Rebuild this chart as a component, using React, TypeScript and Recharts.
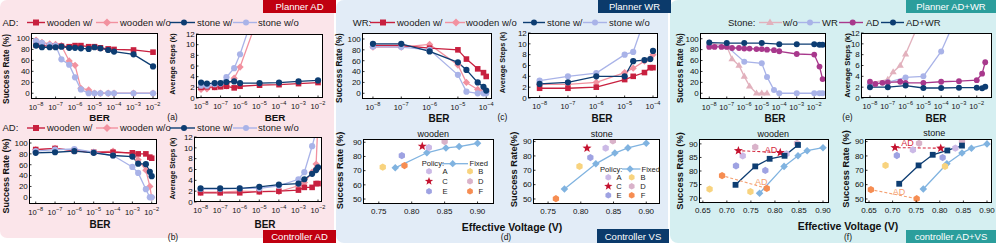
import React from "react"
import { ComposedChart, Line, Scatter, XAxis, YAxis, ReferenceLine, ReferenceDot } from "recharts"

const FONT = "'Liberation Sans', Arial, Helvetica, sans-serif"

// colours
const RED = "#c8203f"
const PINK = "#f2919f"
const NAVY = "#0d3d72"
const LAV = "#a9b3e8"
const MAUVE = "#e2b1bd"
const MAGENTA = "#a8388c"
const FIXED = "#80b3e0"
const POL_COLORS = ["#cbb9e6", "#f8d37e", "#c4122f", "#d9b2c9", "#9ea2e2", "#f68d52"]
const POLICIES = ["A", "B", "C", "D", "E", "F"]

// ---- (a) Planner AD ----
const berA = [1e-8, 2e-8, 5e-8, 1e-7, 2e-7, 5e-7, 1e-6, 2e-6, 5e-6, 1e-5, 2e-5, 5e-5, 1e-4, 1e-3, 1e-2]
const aSrWoodenW = [88, 87, 86, 86, 86, 85, 87, 87, 85, 85, 83, 81, 80, 79, 75]
const aSrWoodenWo = [97, 93, 90, 89, 87, 59, 51, 9, 6, 0, 0, 0, 0, 0, 0]
const aSrStoneW = [87, 84, 84, 84, 85, 83, 83, 82, 81, 84, 82, 79, 76, 71, 49]
const aSrStoneWo = [95, 92, 88, 87, 62, 52, 29, 7, 0, 0, 0, 0, 0, 0, 0]
const berAs = [1e-8, 2e-8, 5e-8, 1e-7, 2e-7, 5e-7, 1e-6, 1e-5, 1e-4, 1e-3, 1e-2]
const aStWoodenW = [2.0, 2.1, 2.0, 2.1, 2.2, 1.9, 2.2, 2.4, 2.5, 2.7, 2.9]
const aStWoodenWo = [1.6, 1.7, 2.1, 2.3, 2.3, 3.7, 5.8, 16]
const aStStoneW = [2.9, 2.7, 2.8, 2.8, 3.0, 3.1, 2.8, 2.8, 2.9, 3.1, 3.3]
const aStStoneWo = [2.3, 2.3, 2.6, 2.7, 3.9, 5.6, 8.2, 19]

// ---- (b) Controller AD ----
const berB = [1e-8, 1e-7, 1e-6, 1e-5, 1e-4, 1e-3, 2e-3, 5e-3, 8e-3, 1e-2]
const bSrWoodenW = [88, 90, 86, 83, 83, 82, 80, 80, 74, 72]
const bSrWoodenWo = [88, 90, 86, 83, 85, 80, 69, 50, 20, 0]
const bSrStoneW = [82, 83, 85, 82, 77, 75, 62, 61, 47, 39]
const bSrStoneWo = [85, 88, 89, 83, 77, 56, 45, 15, 0, 0]
const bStWoodenW = [1.7, 1.7, 1.7, 1.9, 2.0, 2.2, 2.7, 2.7, 3.4, 3.4]
const bStWoodenWo = [1.8, 1.8, 2.0, 1.9, 1.9, 3.0, 3.6, 5.5, 7.0, 15]
const bStStoneW = [2.5, 2.5, 2.5, 2.8, 3.2, 3.4, 4.2, 5.2, 5.9, 6.4]
const bStStoneWo = [2.4, 2.4, 2.5, 2.5, 3.0, 4.2, 5.5, 10.3, 13, 18]

// ---- (c) Planner WR ----
const berC = [1e-8, 1e-7, 1e-6, 1e-5, 2e-5, 5e-5, 8e-5, 1e-4]
const cSrWoodenW = [88, 88, 83, 80, 63, 45, 38, 31]
const cSrWoodenWo = [85, 85, 90, 52, 20, 7, 4, 3]
const cSrStoneW = [91, 91, 77, 57, 43, 20, 12, 5]
const cSrStoneWo = [86, 85, 80, 34, 3, 0, 0, 0]
const cStWoodenW = [1.8, 1.8, 2.0, 3.4, 4.0, 4.7, 5.6, 5.6]
const cStWoodenWo = [2.5, 2.5, 2.9, 4.7, 5.5, 6.8, 7.2, 8.0]
const cStStoneW = [2.6, 2.9, 4.0, 4.0, 6.8, 7.0, 7.2, 8.7]
const cStStoneWo = [3.2, 4.0, 4.6, 8.0, 8.5, 14.5, 20, 24]

// ---- (d) Controller VS ----
const dFixedV = [0.775, 0.823, 0.852, 0.872, 0.9]
const dWoodFixed = [72, 82.6, 86, 87, 89.3]
const dStoneFixed = [57, 74.5, 82, 85.6, 88.8]
const dWoodPolV = [0.826, 0.756, 0.816, 0.85, 0.785, 0.789]
const dWoodPolSR = [86.3, 72.5, 87.2, 90.5, 80.6, 73.6]
const dStonePolV = [0.838, 0.798, 0.8095, 0.849, 0.8146, 0.762]
const dStonePolSR = [85.4, 72.7, 85.4, 90.5, 78.9, 50.2]

// ---- (e) Planner AD+WR ----
const berEwo = [1e-8, 1e-7, 2e-7, 5e-7, 1e-6, 2e-6, 5e-6, 1e-5, 2e-5]
const eSrWo = [92, 86, 63, 51, 31, 13, 0, 0, 0]
const berEwr = [1e-8, 1e-7, 1e-6, 1e-5, 2e-5, 5e-5, 1e-4, 1e-3, 1e-2, 2e-2, 3e-2]
const eSrWR = [87, 86, 58, 55, 30, 6, 0, 0, 0, 0, 0]
const berEad = [1e-8, 2e-8, 5e-8, 1e-7, 2e-7, 5e-7, 1e-6, 2e-6, 5e-6, 1e-5, 2e-5, 5e-5, 1e-4, 1e-3, 1e-2, 2e-2, 3e-2]
const eSrAD = [85, 85, 85, 85, 83, 83, 82, 82, 81, 81, 80, 79, 77, 72, 71, 49, 26]
const berEadwr = [1e-8, 1e-7, 1e-6, 1e-5, 1e-4, 1e-3, 1e-2, 2e-2, 3e-2]
const eSrADWR = [93, 92, 92, 92, 90, 90, 90, 89, 89]
const berEstWo = [1e-8, 1e-7, 2e-7, 5e-7, 1e-6, 5e-6]
const eStWo = [2.8, 3.4, 4.8, 6.0, 8.1, 13.4]
const berEstWR = [1e-8, 1e-7, 1e-6, 1e-5, 1e-4, 1e-3]
const eStWR = [2.6, 2.9, 3.8, 4.0, 8.6, 16]
const berEstAD = [1e-8, 2e-8, 5e-8, 1e-7, 5e-7, 1e-6, 1e-5, 1e-4, 1e-3, 1e-2, 2e-2, 3e-2]
const eStAD = [3.0, 2.6, 2.8, 2.9, 3.0, 2.8, 2.8, 3.0, 3.1, 3.3, 4.5, 6.6]
const eStADWR = [2.0, 2.0, 2.3, 1.85, 1.85, 1.9, 1.9, 1.8, 2.1]

// ---- (f) controller AD+VS ----
const fWoodFixedV = [0.768, 0.819, 0.848, 0.867, 0.9]
const fWoodFixed = [71.8, 81.7, 85.6, 87.5, 88.6]
const fWoodAdvsV = [0.718, 0.759, 0.789, 0.82, 0.848]
const fWoodAdvs = [74.9, 81.7, 84.5, 85.6, 89.6]
const fWoodOrigV = [0.824, 0.749, 0.811, 0.846, 0.78, 0.783]
const fWoodOrigSR = [86.3, 72.4, 86.8, 90.2, 80.2, 73.6]
const fWoodAdV = [0.733, 0.664, 0.724, 0.759, 0.719, 0.69]
const fWoodAdSR = [85.6, 73.3, 87.5, 88.8, 81.9, 78.3]
const fStoneFixedV = [0.765, 0.815, 0.847, 0.867, 0.9]
const fStoneFixed = [57, 74.5, 82, 85.4, 88.4]
const fStoneAdvsV = [0.714, 0.755, 0.785, 0.816, 0.847]
const fStoneAdvs = [60.6, 73.4, 80.8, 83.8, 87.2]
const fStoneOrigV = [0.833, 0.811, 0.802, 0.847, 0.806, 0.751]
const fStoneOrigSR = [85.4, 72.7, 85.4, 90.5, 78.9, 50.2]
const fStoneAdV = [0.743, 0.685, 0.705, 0.756, 0.709, 0.654]
const fStoneAdSR = [84.2, 73.4, 85.8, 88.8, 80.3, 56.5]

const logTicks6 = [1e-8, 1e-7, 1e-6, 1e-5, 1e-4, 1e-3, 1e-2]
const logTicks4 = [1e-8, 1e-7, 1e-6, 1e-5, 1e-4]
const srTicks = [0, 20, 40, 60, 80, 100]
const stepTicks = [0, 2, 4, 6, 8, 10, 12]

type Kind = "circle" | "square" | "diamond" | "triangle" | "hexagon" | "star"
const POL_KINDS: Kind[] = ["hexagon", "hexagon", "star", "hexagon", "hexagon", "hexagon"]

function poly(x: number, y: number, r: number, n: number, inner = 0) {
  const count = inner ? n * 2 : n
  const pts: string[] = []
  for (let i = 0; i < count; i++) {
    const a = -Math.PI / 2 + (i * Math.PI * 2) / count
    const rr = inner && i % 2 ? inner : r
    pts.push(`${x + rr * Math.cos(a)},${y + rr * Math.sin(a)}`)
  }
  return "M" + pts.join("L") + "Z"
}

function Mark({ kind, x, y, s, fill }: { kind: Kind; x: number; y: number; s: number; fill: string }) {
  if (kind === "circle") return <circle cx={x} cy={y} r={s} fill={fill} />
  let d = ""
  if (kind === "square") d = `M${x - s},${y - s}H${x + s}V${y + s}H${x - s}Z`
  else if (kind === "diamond") {
    const r = s * 1.35
    d = `M${x},${y - r}L${x + r},${y}L${x},${y + r}L${x - r},${y}Z`
  } else if (kind === "triangle") {
    const r = s * 1.35
    d = `M${x},${y - r}L${x + r * 0.95},${y + r * 0.6}L${x - r * 0.95},${y + r * 0.6}Z`
  } else if (kind === "hexagon") d = poly(x, y, s * 1.1, 6)
  else d = poly(x, y, s * 1.45, 5, s * 0.6)
  return <path d={d} fill={fill} />
}

const dotOf = (kind: Kind, color: string, s: number) => (p: any) =>
  p.cx == null || p.cy == null ? <g key={p.index} /> : <Mark key={p.index} kind={kind} x={p.cx} y={p.cy} s={s} fill={color} />

const logTick = (p: any) => {
  const e = Math.round(Math.log10(p.payload.value))
  return (
    <g>
      <line x1={p.x} x2={p.x} y1={p.y} y2={p.y - 2.5} stroke="#000" strokeWidth={0.8} />
      <text x={p.x} y={p.y + 10.5} textAnchor="middle" fontSize={7.6} fontFamily={FONT} fill="#111">
        10<tspan dy={-3.4} fontSize={5.6}>{"\u2212" + Math.abs(e)}</tspan>
      </text>
    </g>
  )
}

const voltTick = (p: any) => (
  <g>
    <line x1={p.x} x2={p.x} y1={p.y} y2={p.y - 2.5} stroke="#000" strokeWidth={0.8} />
    <text x={p.x} y={p.y + 9.5} textAnchor="middle" fontSize={8} fontFamily={FONT} fill="#111">
      {Number(p.payload.value).toFixed(2)}
    </text>
  </g>
)

const yTick = (p: any) => (
  <g>
    <line x1={p.x} x2={p.x + 2.5} y1={p.y} y2={p.y} stroke="#000" strokeWidth={0.8} />
    <text x={p.x - 1.2} y={p.y + 2.8} textAnchor="end" fontSize={8} fontFamily={FONT} fill="#111">
      {p.payload.value}
    </text>
  </g>
)

type Box = { x: number; y: number; w: number; h: number }
type Series = { xs: number[]; ys: number[]; color: string; kind: Kind; s?: number }

const BOX: Record<string, Box> = {
  aSr: { x: 31, y: 33, w: 127, h: 66 },
  aSt: { x: 196, y: 34, w: 127, h: 64 },
  bSr: { x: 29, y: 139, w: 128, h: 65 },
  bSt: { x: 194, y: 137, w: 128, h: 65 },
  cSr: { x: 362, y: 33, w: 130, h: 66 },
  cSt: { x: 528, y: 33, w: 130, h: 65 },
  dW: { x: 363, y: 139, w: 131, h: 65 },
  dS: { x: 533, y: 139, w: 127, h: 65 },
  eSr: { x: 700, y: 33, w: 126, h: 66 },
  eSt: { x: 861, y: 33, w: 131, h: 65 },
  fW: { x: 699, y: 139, w: 130, h: 64 },
  fS: { x: 865, y: 139, w: 127, h: 64 },
}

const PL = 32
const PT = 4
const PR = 4
const PB = 16

function Plot(props: {
  box: Box
  xDomain: [number, number]
  yDomain: [number, number]
  xTicks: number[]
  yTicks: number[]
  log?: boolean
  series: Series[]
  after?: React.ReactNode
}) {
  const { box, xDomain, yDomain, xTicks, yTicks, log, series } = props
  return (
    <div style={{ position: "absolute", left: box.x - PL, top: box.y - PT }}>
      <ComposedChart width={box.w + PL + PR} height={box.h + PT + PB} margin={{ top: PT, right: PR, bottom: 0, left: 0 }}>
        <XAxis
          dataKey="x"
          type="number"
          scale={log ? "log" : "linear"}
          domain={xDomain}
          allowDataOverflow
          ticks={xTicks}
          interval={0}
          tickSize={0}
          tickMargin={0}
          tickLine={false}
          axisLine={false}
          height={PB}
          tick={log ? logTick : voltTick}
        />
        <YAxis
          type="number"
          domain={yDomain}
          allowDataOverflow
          ticks={yTicks}
          interval={0}
          tickSize={0}
          tickMargin={0}
          tickLine={false}
          axisLine={false}
          width={PL}
          tick={yTick}
        />
        {series.map((s, i) => (
          <Line
            key={"l" + i}
            data={s.xs.map((x, j) => ({ x, y: s.ys[j] }))}
            dataKey="y"
            stroke={s.color}
            strokeWidth={1.3}
            dot={dotOf(s.kind, s.color, s.s ?? 2.9)}
            activeDot={false}
            isAnimationActive={false}
          />
        ))}
        {props.after}
      </ComposedChart>
    </div>
  )
}

function policyScatters(vs: number[], srs: number[], tag: string) {
  return POLICIES.map((p, i) => (
    <Scatter
      key={tag + p}
      data={[{ x: vs[i], y: srs[i] }]}
      dataKey="y"
      isAnimationActive={false}
      shape={(q: any) => <Mark kind={POL_KINDS[i]} x={q.cx} y={q.cy} s={3.3} fill={POL_COLORS[i]} />}
    />
  ))
}

function adArrow(from: [number, number], to: [number, number], lab: [number, number], color: string, tag: string) {
  return [
    <ReferenceLine
      key={tag + "l"}
      segment={[{ x: from[0], y: from[1] }, { x: to[0], y: to[1] }]}
      stroke={color}
      strokeWidth={1.1}
      strokeDasharray="3 2"
      ifOverflow="visible"
    />,
    <ReferenceDot
      key={tag + "t"}
      x={lab[0]}
      y={lab[1]}
      r={0}
      fill="none"
      stroke="none"
      ifOverflow="visible"
      label={{ value: "AD", fill: color, fontSize: 9, fontFamily: FONT }}
    />,
  ]
}

const fourSeries = (xs: number[][], ys: number[][]): Series[] => [
  { xs: xs[1], ys: ys[1], color: PINK, kind: "diamond", s: 2.7 },
  { xs: xs[0], ys: ys[0], color: RED, kind: "square", s: 2.8 },
  { xs: xs[3], ys: ys[3], color: LAV, kind: "circle", s: 3.1 },
  { xs: xs[2], ys: ys[2], color: NAVY, kind: "circle", s: 3.1 },
]

function LegendItem(p: { x1: number; x2: number; mx: number; y: number; color: string; kind: Kind; label: string; lx: number }) {
  return (
    <g>
      <line x1={p.x1} x2={p.x2} y1={p.y} y2={p.y} stroke={p.color} strokeWidth={1.4} />
      <Mark kind={p.kind} x={p.mx} y={p.y} s={3} fill={p.color} />
      <text x={p.lx} y={p.y + 3.4} fontSize={9.5} fill="#1a1a1a">
        {p.label}
      </text>
    </g>
  )
}

function FourLegend({ y, head, hx, xs }: { y: number; head: string; hx: number; xs: number[][] }) {
  const items: [string, Kind, string][] = [
    [RED, "square", "wooden w/"],
    [PINK, "diamond", "wooden w/o"],
    [NAVY, "circle", "stone w/"],
    [LAV, "circle", "stone w/o"],
  ]
  return (
    <g>
      <text x={hx} y={y + 3.4} fontSize={9.5} fill="#1a1a1a">
        {head}
      </text>
      {items.map((it, i) => (
        <LegendItem key={i} x1={xs[i][0]} x2={xs[i][1]} mx={xs[i][2]} y={y} color={it[0]} kind={it[1]} label={it[2]} lx={xs[i][3]} />
      ))}
    </g>
  )
}

function PolicyLegend(p: { x: number; y: number; lx1: number; lx2: number; dx: number; fx: number; rows: number[]; cols: number[][] }) {
  return (
    <g fontSize={7.6} fill="#1a1a1a">
      <text x={p.x} y={p.y + 2.7}>Policy:</text>
      <line x1={p.lx1} x2={p.lx2} y1={p.y} y2={p.y} stroke={FIXED} strokeWidth={1.3} />
      <Mark kind="diamond" x={p.dx} y={p.y} s={2.7} fill={FIXED} />
      <text x={p.fx} y={p.y + 2.7}>Fixed</text>
      {POLICIES.map((name, i) => {
        const yy = p.rows[Math.floor(i / 2)]
        const c = p.cols[i % 2]
        return (
          <g key={name}>
            <Mark kind={POL_KINDS[i]} x={c[0]} y={yy} s={3} fill={POL_COLORS[i]} />
            <text x={c[1]} y={yy + 2.7} textAnchor="middle">
              {name}
            </text>
          </g>
        )
      })}
    </g>
  )
}

function YTitle({ cx, cy, fs, t }: { cx: number; cy: number; fs: number; t: string }) {
  return (
    <text x={cx} y={cy} transform={`rotate(-90 ${cx} ${cy})`} textAnchor="middle" dominantBaseline="central" fontWeight="bold" fontSize={fs} fill="#111">
      {t}
    </text>
  )
}

function Txt({ x, y, t, fs, bold, fill = "#111" }: { x: number; y: number; t: string; fs: number; bold?: boolean; fill?: string }) {
  return (
    <text x={x} y={y} textAnchor="middle" dominantBaseline="central" fontSize={fs} fontWeight={bold ? "bold" : "normal"} fill={fill}>
      {t}
    </text>
  )
}

function Tag({ x1, x2, y1, y2, color, t }: { x1: number; x2: number; y1: number; y2: number; color: string; t: string }) {
  return (
    <g>
      <rect x={x1} y={y1} width={x2 - x1} height={y2 - y1} fill={color} />
      <Txt x={(x1 + x2) / 2} y={(y1 + y2) / 2 + 0.3} t={t} fs={9.5} fill="#fff" />
    </g>
  )
}

export default function App() {
  const legendX = [
    [27, 45, 36, 47],
    [96, 118, 107, 120],
    [170, 195, 184, 197],
    [233, 257, 246, 258],
  ]
  const legendXc = [
    [370, 395, 383, 397],
    [445, 465, 456, 466],
    [523, 545, 534, 547],
    [583, 607, 595, 609],
  ]
  return (
    <div style={{ position: "absolute", left: 0, top: 0, width: 996, height: 243, fontFamily: FONT, background: "#fff" }}>
      <svg width={996} height={243} style={{ position: "absolute", left: 0, top: 0 }}>
        <rect x={0} y={0} width={334} height={238} rx={7} fill="#fbe5ea" />
        <rect x={336} y={0} width={332} height={243} rx={8} fill="#e2ecf7" />
        <rect x={670} y={0} width={326} height={243} rx={8} fill="#d5eff1" />
        {Object.values(BOX).map((b, i) => (
          <rect key={i} x={b.x} y={b.y} width={b.w} height={b.h} fill="#fff" />
        ))}
      </svg>

      <Plot box={BOX.aSr} log xDomain={[5.5e-9, 1.8e-2]} yDomain={[-10.5, 110]} xTicks={logTicks6} yTicks={srTicks}
        series={fourSeries([berA, berA, berA, berA], [aSrWoodenW, aSrWoodenWo, aSrStoneW, aSrStoneWo])} />
      <Plot box={BOX.aSt} log xDomain={[5.5e-9, 1.8e-2]} yDomain={[0, 12]} xTicks={logTicks6} yTicks={stepTicks}
        series={fourSeries([berAs, berAs.slice(0, 8), berAs, berAs.slice(0, 8)], [aStWoodenW, aStWoodenWo, aStStoneW, aStStoneWo])} />
      <Plot box={BOX.bSr} log xDomain={[4.5e-9, 1.88e-2]} yDomain={[-12.3, 107.4]} xTicks={logTicks6} yTicks={srTicks}
        series={fourSeries([berB, berB, berB, berB], [bSrWoodenW, bSrWoodenWo, bSrStoneW, bSrStoneWo])} />
      <Plot box={BOX.bSt} log xDomain={[4.6e-9, 1.6e-2]} yDomain={[0, 12]} xTicks={logTicks6} yTicks={stepTicks}
        series={fourSeries([berB, berB, berB, berB], [bStWoodenW, bStWoodenWo, bStStoneW, bStStoneWo])} />
      <Plot box={BOX.cSr} log xDomain={[4.1e-9, 1.6e-4]} yDomain={[-10.5, 111]} xTicks={logTicks4} yTicks={srTicks}
        series={fourSeries([berC, berC, berC, berC], [cSrWoodenW, cSrWoodenWo, cSrStoneW, cSrStoneWo])} />
      <Plot box={BOX.cSt} log xDomain={[3.9e-9, 1.5e-4]} yDomain={[0, 12]} xTicks={logTicks4} yTicks={stepTicks}
        series={fourSeries([berC, berC, berC, berC], [cStWoodenW, cStWoodenWo, cStStoneW, cStStoneWo])} />

      <Plot box={BOX.dW} xDomain={[0.726, 0.925]} yDomain={[46.5, 92.3]} xTicks={[0.75, 0.8, 0.85, 0.9]} yTicks={[50, 60, 70, 80, 90]}
        series={[{ xs: dFixedV, ys: dWoodFixed, color: FIXED, kind: "diamond", s: 2.8 }]}
        after={policyScatters(dWoodPolV, dWoodPolSR, "dw")} />
      <Plot box={BOX.dS} xDomain={[0.727, 0.921]} yDomain={[46.5, 91.8]} xTicks={[0.75, 0.8, 0.85, 0.9]} yTicks={[50, 60, 70, 80, 90]}
        series={[{ xs: dFixedV, ys: dStoneFixed, color: FIXED, kind: "diamond", s: 2.8 }]}
        after={policyScatters(dStonePolV, dStonePolSR, "ds")} />

      <Plot box={BOX.eSr} log xDomain={[2.95e-9, 4.7e-2]} yDomain={[-10.5, 110.5]} xTicks={logTicks6} yTicks={srTicks}
        series={[
          { xs: berEwo, ys: eSrWo, color: MAUVE, kind: "triangle", s: 2.8 },
          { xs: berEwr, ys: eSrWR, color: LAV, kind: "circle", s: 3 },
          { xs: berEad, ys: eSrAD, color: MAGENTA, kind: "circle", s: 2.9 },
          { xs: berEadwr, ys: eSrADWR, color: NAVY, kind: "circle", s: 3 },
        ]} />
      <Plot box={BOX.eSt} log xDomain={[3.12e-9, 7.2e-2]} yDomain={[0, 12]} xTicks={logTicks6} yTicks={stepTicks}
        series={[
          { xs: berEstWo, ys: eStWo, color: MAUVE, kind: "triangle", s: 2.8 },
          { xs: berEstWR, ys: eStWR, color: LAV, kind: "circle", s: 3 },
          { xs: berEstAD, ys: eStAD, color: MAGENTA, kind: "circle", s: 2.9 },
          { xs: berEadwr, ys: eStADWR, color: NAVY, kind: "circle", s: 3 },
        ]} />

      <Plot box={BOX.fW} xDomain={[0.642, 0.9125]} yDomain={[68.2, 91.8]} xTicks={[0.65, 0.7, 0.75, 0.8, 0.85, 0.9]} yTicks={[70, 75, 80, 85, 90]}
        series={[{ xs: fWoodFixedV, ys: fWoodFixed, color: FIXED, kind: "diamond", s: 2.8 }]}
        after={[
          ...policyScatters(fWoodOrigV, fWoodOrigSR, "fwo"),
          ...policyScatters(fWoodAdV, fWoodAdSR, "fwa"),
          <Line key="advs" data={fWoodAdvsV.map((x, j) => ({ x, y: fWoodAdvs[j] }))} dataKey="y" stroke={NAVY} strokeWidth={1.3}
            dot={dotOf("square", NAVY, 2.9)} activeDot={false} isAnimationActive={false} />,
          ...adArrow([fWoodOrigV[2], fWoodOrigSR[2]], [fWoodAdV[2], fWoodAdSR[2]], [0.792, 88.0], "#d42a40", "fwc"),
          ...adArrow([fWoodOrigV[5], fWoodOrigSR[5]], [fWoodAdV[5], fWoodAdSR[5]], [0.7715, 76.1], "#f4a072", "fwf"),
        ]} />
      <Plot box={BOX.fS} xDomain={[0.6415, 0.9106]} yDomain={[47.2, 91.8]} xTicks={[0.65, 0.7, 0.75, 0.8, 0.85, 0.9]} yTicks={[50, 60, 70, 80, 90]}
        series={[{ xs: fStoneFixedV, ys: fStoneFixed, color: FIXED, kind: "diamond", s: 2.8 }]}
        after={[
          ...policyScatters(fStoneOrigV, fStoneOrigSR, "fso"),
          ...policyScatters(fStoneAdV, fStoneAdSR, "fsa"),
          <Line key="advs" data={fStoneAdvsV.map((x, j) => ({ x, y: fStoneAdvs[j] }))} dataKey="y" stroke={NAVY} strokeWidth={1.3}
            dot={dotOf("square", NAVY, 2.9)} activeDot={false} isAnimationActive={false} />,
          ...adArrow([fStoneOrigV[2], fStoneOrigSR[2]], [fStoneAdV[2], fStoneAdSR[2]], [0.7315, 88.8], "#d42a40", "fsc"),
          ...adArrow([fStoneOrigV[5], fStoneOrigSR[5]], [fStoneAdV[5], fStoneAdSR[5]], [0.7137, 54.9], "#f4a072", "fsf"),
        ]} />

      <svg width={996} height={243} style={{ position: "absolute", left: 0, top: 0, pointerEvents: "none" }} fontFamily={FONT}>
        {Object.values(BOX).map((b, i) => (
          <rect key={i} x={b.x + 0.5} y={b.y + 0.5} width={b.w - 1} height={b.h - 1} fill="none" stroke="#000" strokeWidth={1} />
        ))}

        <Tag x1={263} x2={336} y1={0} y2={13} color="#c00010" t="Planner AD" />
        <Tag x1={263} x2={336} y1={230} y2={243} color="#c00010" t="Controller AD" />
        <Tag x1={598} x2={671} y1={0} y2={13} color="#0b3a6b" t="Planner WR" />
        <Tag x1={597} x2={669} y1={229} y2={243} color="#0b3a6b" t="Controller VS" />
        <Tag x1={906} x2={996} y1={0} y2={13} color="#2b9e9c" t="Planner AD+WR" />
        <Tag x1={906} x2={996} y1={230} y2={243} color="#2b9e9c" t="controller AD+VS" />

        <FourLegend y={22.5} head="AD:" hx={2.5} xs={legendX} />
        <FourLegend y={128} head="AD:" hx={2.5} xs={legendX} />
        <FourLegend y={22.5} head="WR:" hx={352.7} xs={legendXc} />

        <g>
          <text x={728} y={25.9} fontSize={9.5} fill="#1a1a1a">Stone:</text>
          <LegendItem x1={759} x2={782} mx={770} y={22.5} color={MAUVE} kind="triangle" label="w/o" lx={783} />
          <LegendItem x1={798} x2={820} mx={810} y={22.5} color={LAV} kind="circle" label="WR" lx={822} />
          <LegendItem x1={839} x2={863} mx={852.7} y={22.5} color={MAGENTA} kind="circle" label="AD" lx={866} />
          <LegendItem x1={881} x2={904} mx={893} y={22.5} color={NAVY} kind="circle" label="AD+WR" lx={906} />
        </g>

        <PolicyLegend x={421.7} y={163.7} lx1={441.7} lx2={468} dx={452.7} fx={469.5}
          rows={[171.3, 181.3, 191.3]} cols={[[429, 445], [470, 480.7]]} />
        <PolicyLegend x={600} y={169} lx1={622} lx2={640.5} dx={630} fx={641.5}
          rows={[177.3, 186.3, 195.3]} cols={[[608.3, 619], [631.7, 643]]} />

        <YTitle cx={6} cy={69} fs={8.4} t="Success Rate (%)" />
        <YTitle cx={172.5} cy={64} fs={7.3} t="Average Steps (k)" />
        <YTitle cx={6} cy={176} fs={9} t="Success Rate (%)" />
        <YTitle cx={172.5} cy={168.5} fs={7.4} t="Average Steps (k)" />
        <YTitle cx={339} cy={68} fs={8.4} t="Success Rate (%)" />
        <YTitle cx={502} cy={62.5} fs={7.3} t="Average Steps (k)" />
        <YTitle cx={340} cy={170.5} fs={9.3} t="Success Rate (%)" />
        <YTitle cx={513} cy={169.5} fs={9.4} t="Success Rate(%)" />
        <YTitle cx={680} cy={68} fs={8.4} t="Success Rate (%)" />
        <YTitle cx={847} cy={65.5} fs={7.7} t="Average Steps (k)" />
        <YTitle cx={680} cy={171} fs={9.3} t="Success Rate (%)" />
        <YTitle cx={846} cy={169} fs={9.3} t="Success Rate (%)" />

        <Txt x={99.5} y={117.5} t="BER" fs={9.8} bold />
        <Txt x={275} y={117.5} t="BER" fs={9.8} bold />
        <Txt x={100} y={224} t="BER" fs={10} bold />
        <Txt x={265} y={224} t="BER" fs={10} bold />
        <Txt x={439} y={118.5} t="BER" fs={10} bold />
        <Txt x={602} y={118.5} t="BER" fs={10} bold />
        <Txt x={775} y={118.5} t="BER" fs={10} bold />
        <Txt x={936} y={118.5} t="BER" fs={10} bold />
        <Txt x={512} y={227} t="Effective Voltage (V)" fs={10.5} bold />
        <Txt x={848} y={226} t="Effective Voltage (V)" fs={10.5} bold />

        <Txt x={172.5} y={116.5} t="(a)" fs={8.5} />
        <Txt x={173} y={236.5} t="(b)" fs={8.5} />
        <Txt x={502.5} y={116.5} t="(c)" fs={8.5} />
        <Txt x={506} y={237} t="(d)" fs={8.5} />
        <Txt x={847.5} y={116.5} t="(e)" fs={8.5} />
        <Txt x={848} y={237} t="(f)" fs={8.5} />

        <Txt x={433.3} y={133.5} t="wooden" fs={9} />
        <Txt x={601.7} y={133.5} t="stone" fs={9} />
        <Txt x={773.3} y={133.5} t="wooden" fs={9} />
        <Txt x={934.3} y={133} t="stone" fs={9} />
      </svg>
    </div>
  )
}
